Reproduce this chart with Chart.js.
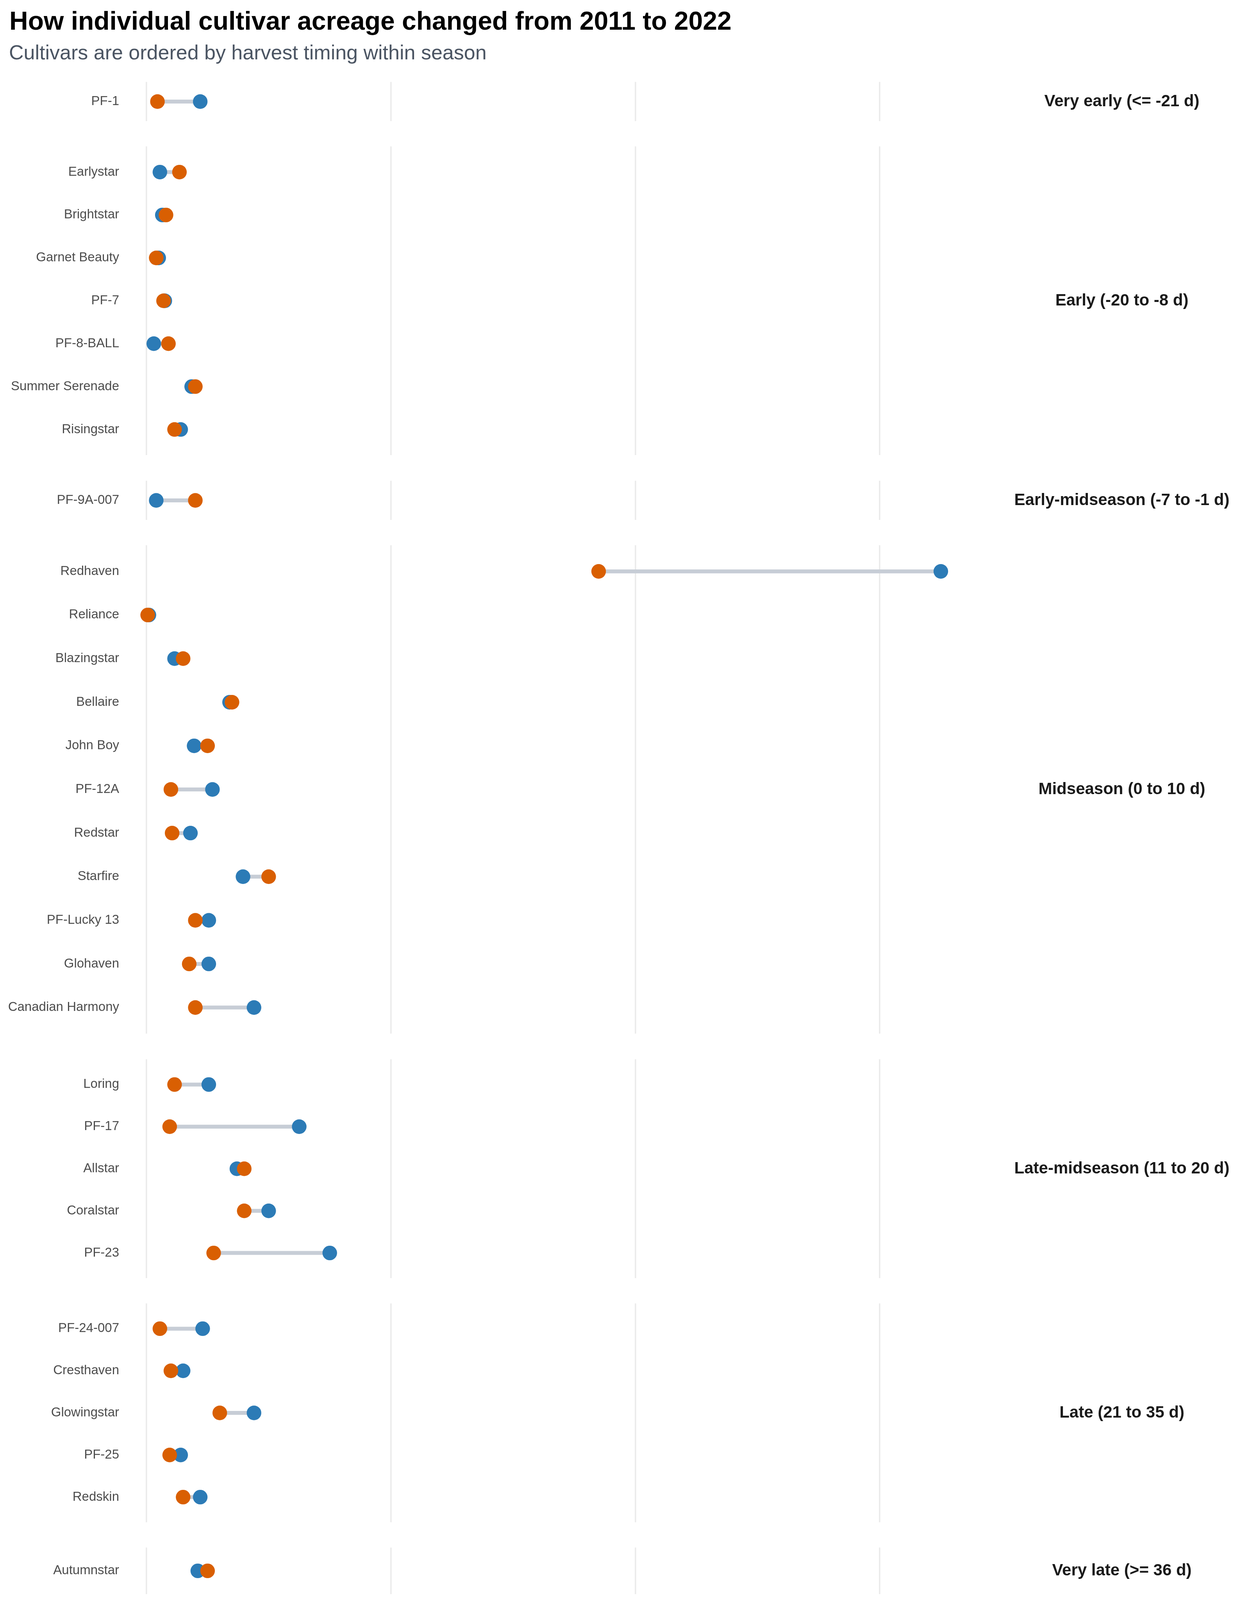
<!DOCTYPE html>
<html>
<head>
<meta charset="utf-8">
<script src="https://cdn.jsdelivr.net/npm/chart.js@4.4.1/dist/chart.umd.min.js"></script>
<style>
  html, body { margin: 0; padding: 0; background: #ffffff; }
  #root { position: relative; width: 3200px; height: 4480px; overflow: hidden; background: #ffffff;
          font-family: "Liberation Sans", Arial, Helvetica, sans-serif; }
  .txt { position: absolute; white-space: nowrap; line-height: 1; }
  #root canvas { position: absolute; left: 0; }
</style>
</head>
<body>
<div id="root">
  <div class="txt" style="left:24px; top:20px; font-size:66px; font-weight:bold; color:#000000;">How individual cultivar acreage changed from 2011 to 2022</div>
  <div class="txt" style="left:23px; top:108px; font-size:52px; color:#4b5563;">Cultivars are ordered by harvest timing within season</div>
  <div class="txt" style="left:337px; top:4408px; font-size:42px; color:#6b7280;">Only cultivars with reported values in both endpoint years are included.</div>
</div>
<script>
// ---------------- DATA ----------------
const seasons = [
  "Very early (<= -21 d)",
  "Early (-20 to -8 d)",
  "Early-midseason (-7 to -1 d)",
  "Midseason (0 to 10 d)",
  "Late-midseason (11 to 20 d)",
  "Late (21 to 35 d)",
  "Very late (>= 36 d)"
];
const seasonSizes = [1, 7, 1, 11, 5, 5, 1];
const cultivars = [
  "PF-1",
  "Earlystar", "Brightstar", "Garnet Beauty", "PF-7", "PF-8-BALL", "Summer Serenade", "Risingstar",
  "PF-9A-007",
  "Redhaven", "Reliance", "Blazingstar", "Bellaire", "John Boy", "PF-12A", "Redstar", "Starfire", "PF-Lucky 13", "Glohaven", "Canadian Harmony",
  "Loring", "PF-17", "Allstar", "Coralstar", "PF-23",
  "PF-24-007", "Cresthaven", "Glowingstar", "PF-25", "Redskin",
  "Autumnstar"
];
const acres2011 = [
  44,
  11, 13, 10, 15, 6, 37, 28,
  8,
  650, 2, 23, 68, 39, 54, 36, 79, 51, 51, 88,
  51, 125, 74, 100, 150,
  46, 30, 88, 28, 44,
  42
];
const acres2022 = [
  9,
  27, 16, 8, 14, 18, 40, 23,
  40,
  370, 1, 30, 70, 50, 20, 21, 100, 40, 35, 40,
  23, 19, 80, 80, 55,
  11, 20, 60, 19, 30,
  50
];
const xTicks = [0, 200, 400, 600];
const yearLabels = ["2011", "2022"];

// ---------------- STYLE / LAYOUT ----------------
const FONT = '"Liberation Sans", Arial, Helvetica, sans-serif';
const BLUE = "#2c7bb6";
const ORANGE = "#d95f02";
const SEG = "#c7cdd6";
const GRID = "#ebebeb";
const W = 3200;
const ROW = 115;        // px per category row
const GAP = 27.4;       // px between panels
const FIRST_TOP = 191;  // top of the first panel
const PLOT_LEFT = 338;
const PLOT_RIGHT = 2574;
const STRIP_X = 2872;
const X_MIN = -11.8, X_MAX = 702.9;
const XAXIS_H = 130;
const LEGEND_Y = 4324;

Chart.defaults.font.family = FONT;
const root = document.getElementById("root");

function stripPlugin(label) {
  return {
    id: "strip",
    afterDraw(chart) {
      const { ctx, chartArea } = chart;
      ctx.save();
      ctx.font = "bold 42px " + FONT;
      ctx.fillStyle = "#1a1a1a";
      ctx.textAlign = "center";
      ctx.textBaseline = "middle";
      ctx.fillText(label, STRIP_X, (chartArea.top + chartArea.bottom) / 2);
      ctx.restore();
    }
  };
}

function legendPlugin(canvasTop) {
  return {
    id: "yearLegend",
    afterDraw(chart) {
      const { ctx, chartArea } = chart;
      const cx = (chartArea.left + chartArea.right) / 2;
      const cy = LEGEND_Y - canvasTop;
      ctx.save();
      ctx.textBaseline = "middle";
      ctx.textAlign = "left";
      ctx.fillStyle = "#000000";
      ctx.font = "50px " + FONT;
      ctx.fillText("Year", cx - 277.5, cy);
      const dotOffsets = [-105.6, 115.9];
      const textOffsets = [-41.7, 180.3];
      yearLabels.forEach((yr, i) => {
        const ds = chart.data.datasets.find(d => d.label === yr);
        ctx.beginPath();
        ctx.fillStyle = ds.backgroundColor;
        ctx.arc(cx + dotOffsets[i], cy, 18.6, 0, Math.PI * 2);
        ctx.fill();
        ctx.fillStyle = "#000000";
        ctx.font = "40px " + FONT;
        ctx.fillText(yr, cx + textOffsets[i], cy);
      });
      ctx.restore();
    }
  };
}

let startIdx = 0;
let topF = FIRST_TOP;
seasons.forEach((season, k) => {
  const n = seasonSizes[k];
  const names = cultivars.slice(startIdx, startIdx + n);
  const v11 = acres2011.slice(startIdx, startIdx + n);
  const v22 = acres2022.slice(startIdx, startIdx + n);
  startIdx += n;

  const isLast = k === seasons.length - 1;
  const panelH = Math.round((n + 0.2) * ROW);
  const top = Math.round(topF);
  const canvasH = isLast ? 4480 - top : panelH;
  const bottomPad = isLast ? canvasH - panelH - XAXIS_H : 0;

  const cv = document.createElement("canvas");
  cv.width = W;
  cv.height = canvasH;
  cv.style.width = W + "px";
  cv.style.height = canvasH + "px";
  cv.style.top = top + "px";
  root.appendChild(cv);

  const segments = names.map((nm, i) => ({
    type: "line",
    label: "seg-" + nm,
    data: [{ x: v11[i], y: i }, { x: v22[i], y: i }],
    borderColor: SEG,
    borderWidth: 10,
    borderCapStyle: "butt",
    pointRadius: 0,
    pointHoverRadius: 0,
    fill: false,
    order: 2
  }));

  const plugins = [stripPlugin(season)];
  if (isLast) plugins.push(legendPlugin(top));

  new Chart(cv, {
    type: "scatter",
    data: {
      datasets: [
        { label: "2022", data: v22.map((x, i) => ({ x: x, y: i })), backgroundColor: ORANGE, borderWidth: 0, pointRadius: 18.7, pointHoverRadius: 18.7, order: 0 },
        { label: "2011", data: v11.map((x, i) => ({ x: x, y: i })), backgroundColor: BLUE, borderWidth: 0, pointRadius: 18.7, pointHoverRadius: 18.7, order: 1 },
        ...segments
      ]
    },
    options: {
      responsive: false,
      animation: false,
      devicePixelRatio: 1,
      events: [],
      layout: { padding: { left: 0, right: W - PLOT_RIGHT, top: 0, bottom: bottomPad } },
      plugins: { legend: { display: false }, tooltip: { enabled: false }, title: { display: false } },
      scales: {
        x: {
          type: "linear", position: "bottom", min: X_MIN, max: X_MAX,
          afterBuildTicks: s => { s.ticks = xTicks.map(v => ({ value: v })); },
          grid: { color: GRID, lineWidth: 3.6, drawTicks: false },
          border: { display: false },
          ticks: { display: isLast, font: { size: 40, family: FONT }, color: "#4d4d4d", padding: 15 },
          title: { display: isLast, text: "Reported acres", color: "#000000", font: { size: 50, weight: "bold", family: FONT }, padding: { top: 0, bottom: 5 } },
          afterFit: s => { s.height = isLast ? XAXIS_H : 0; s.paddingLeft = 0; s.paddingRight = 0; }
        },
        y: {
          type: "linear", reverse: true, min: -0.6, max: n - 0.4,
          afterBuildTicks: s => { s.ticks = names.map((_, i) => ({ value: i })); },
          ticks: { autoSkip: false, font: { size: 33, family: FONT }, color: "#4d4d4d", padding: 25, callback: v => names[v] },
          grid: { display: false },
          border: { display: false },
          afterFit: s => { s.width = PLOT_LEFT; s.paddingTop = 0; s.paddingBottom = 0; }
        }
      }
    },
    plugins: plugins
  });

  topF += (n + 0.2) * ROW + GAP;
});
</script>
</body>
</html>
